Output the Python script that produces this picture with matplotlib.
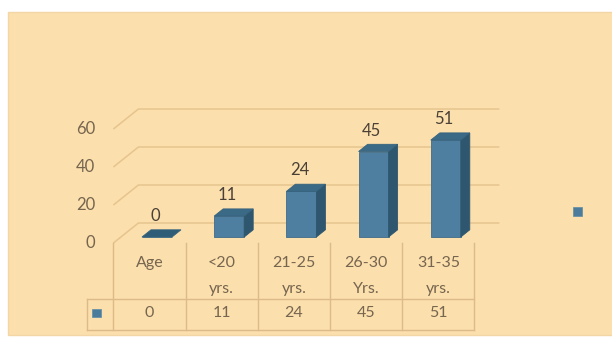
import matplotlib
matplotlib.use("Agg")
import matplotlib.pyplot as plt
from matplotlib.patches import Polygon, Rectangle

# ---- data -------------------------------------------------------------
categories = ["Age", "<20\nyrs.", "21-25\nyrs.", "26-30\nYrs.", "31-35\nyrs."]
values = [0, 11, 24, 45, 51]
yticks = [0, 20, 40, 60]

# ---- layout (pixels) --------------------------------------------------
W, H = 612, 343
PX_PER_CAT = 72.2      # horizontal pixels per category
PX_PER_VAL = 1.9       # vertical pixels per unit of value
X0_PX, Y0_PX = 149.5, 243.0   # front-plane origin (category 0 centre, value 0)
DEPTH_DX = 25 / PX_PER_CAT    # projection of unit depth, in category units
DEPTH_DY = 20 / PX_PER_VAL    # projection of unit depth, in value units

BG = "#FBDFAD"
GRID = "#E6C48E"
TABLE = "#DDBB88"
FRONT = "#4E7FA0"
SIDE = "#2E566E"
TOP = "#3B6A87"
TICK_TXT = "#76654F"
LABEL_TXT = "#4A4036"
FONT = "Lato"


def px(x, y):
    """pixel position -> data coordinates of the chart axes"""
    return (x - X0_PX) / PX_PER_CAT, (Y0_PX - y) / PX_PER_VAL


def proj(x, v, d):
    """category x, value v at depth d -> drawing coordinates"""
    return x + d * DEPTH_DX, v + d * DEPTH_DY


fig = plt.figure(figsize=(W / 100, H / 100), dpi=100, facecolor="white")
ax = fig.add_axes([0, 0, 1, 1])
ax.set_xlim(px(0, 0)[0], px(W, 0)[0])
ax.set_ylim(px(0, H)[1], px(0, 0)[1])
ax.axis("off")

# chart panel
x_a, y_a = px(8, 335)
x_b, y_b = px(W + 2, 12)
ax.add_patch(Rectangle((x_a, y_a), x_b - x_a, y_b - y_a, facecolor=BG,
                       edgecolor="#F3D6A6", lw=1, zorder=0))

n = len(categories)
left, right = -0.5, n - 0.5

# back wall gridlines and side wall lines
for t in yticks:
    xa, ya = proj(left, t, 0)
    xb, yb = proj(left, t, 1)
    xc, yc = proj(right, t, 1)
    ax.plot([xa, xb, xc], [ya, yb, yc], color=GRID, lw=1.1, zorder=1,
            solid_capstyle="butt")
    tx, ty = px(95, 0)
    ax.text(tx, t, f"{t}", ha="right", va="center", fontsize=12,
            family=FONT, color=TICK_TXT, zorder=5)

# 3-D columns
hw = 0.2077
d0, dd = 0.30, 0.36
xs = [i + d0 * DEPTH_DX for i in range(n)]
base = d0 * DEPTH_DY
ax.bar(xs, values, width=2 * hw, bottom=base, color=FRONT,
       edgecolor="#3F6C88", lw=0.6, zorder=3)
ox, oy = dd * DEPTH_DX, dd * DEPTH_DY
for x, v in zip(xs, values):
    top = base + v
    if v > 0:
        side = [(x + hw, base), (x + hw, top), (x + hw + ox, top + oy),
                (x + hw + ox, base + oy)]
        ax.add_patch(Polygon(side, closed=True, facecolor=SIDE,
                             edgecolor=SIDE, lw=0.6, zorder=3))
    lid = [(x - hw, top), (x + hw, top), (x + hw + ox, top + oy),
           (x - hw + ox, top + oy)]
    ax.add_patch(Polygon(lid, closed=True, facecolor=TOP if v > 0 else "#2F5C76",
                         edgecolor="#35627D", lw=0.6, zorder=4))
    ax.text(x - 2 / PX_PER_CAT, top + 21 / PX_PER_VAL, f"{v}", ha="center",
            va="center", fontsize=12, family=FONT, color=LABEL_TXT, zorder=5)

# data table below the plot
_, y_top = px(0, Y0_PX)
_, y_mid = px(0, 299)
_, y_bot = px(0, 330)
x_key, _ = px(87, 0)
for k in range(n + 1):
    xv = left + k
    ax.plot([xv, xv], [y_top, y_bot], color=TABLE, lw=1, zorder=2)
ax.plot([x_key, x_key], [y_mid, y_bot], color=TABLE, lw=1, zorder=2)
for yh in (y_mid, y_bot):
    ax.plot([x_key, right], [yh, yh], color=TABLE, lw=1, zorder=2)

_, y_line1 = px(0, 263)
_, y_line2 = px(0, 289)
_, y_vals = px(0, 313)
for i, (cat, v) in enumerate(zip(categories, values)):
    lines = cat.split("\n")
    ax.text(i, y_line1, lines[0], ha="center", va="center", fontsize=11.5,
            family=FONT, color=TICK_TXT, zorder=5)
    if len(lines) > 1:
        ax.text(i, y_line2, lines[1], ha="center", va="center", fontsize=11.5,
                family=FONT, color=TICK_TXT, zorder=5)
    ax.text(i, y_vals, f"{v}", ha="center", va="center", fontsize=11.5,
            family=FONT, color=TICK_TXT, zorder=5)

# legend keys (table row and right-hand legend)
for cx, cy, s in ((96.5, 313, 8.5), (577.5, 211.5, 9.5)):
    ka, kb = px(cx - s / 2, cy + s / 2)
    kc, kd = px(cx + s / 2, cy - s / 2)
    ax.add_patch(Rectangle((ka, kb), kc - ka, kd - kb, facecolor="#4C7C9C",
                           edgecolor="#5F8BA6", lw=0.5, zorder=5))

fig.savefig("out.png", dpi=100, facecolor="white")
